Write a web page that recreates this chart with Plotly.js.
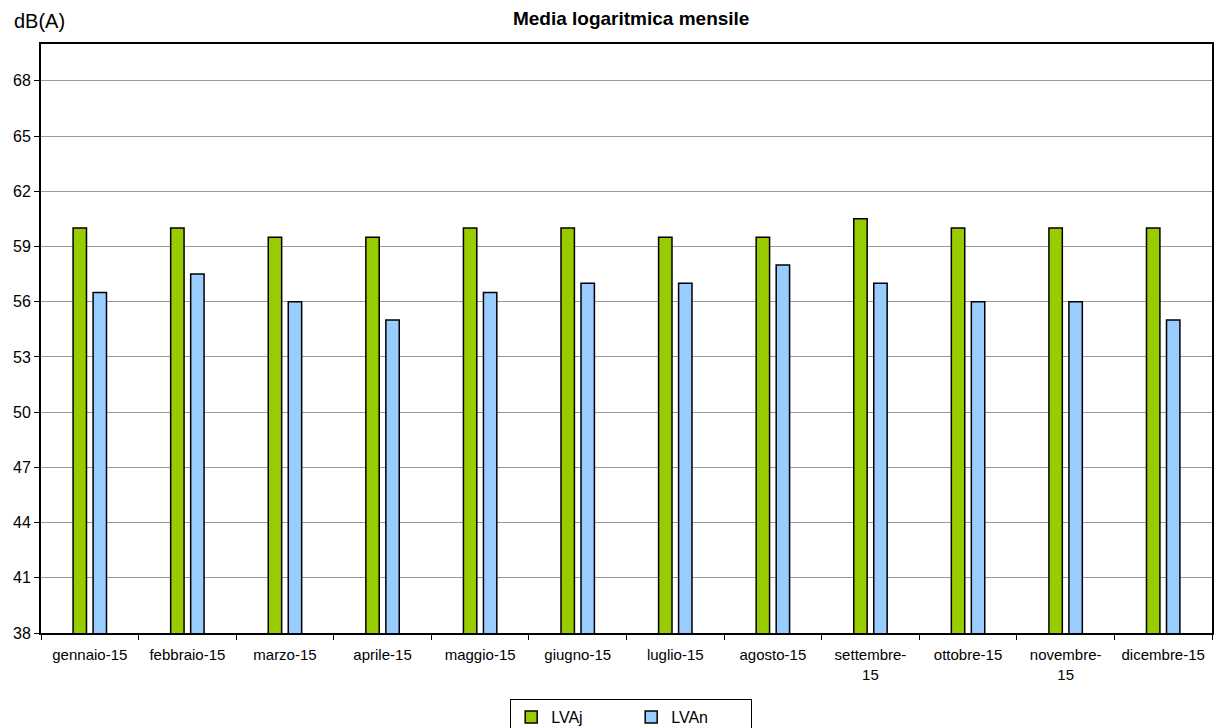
<!DOCTYPE html>
<html>
<head>
<meta charset="utf-8">
<script src="https://cdn.plot.ly/plotly-3.0.1.min.js"></script>
<style>
  html, body { margin: 0; padding: 0; background: #fff; }
  #chart { width: 1216px; height: 728px; }
</style>
</head>
<body>
<div id="chart"></div>
<script>
// Monthly categories (2015)
const months = [
  "gennaio-15", "febbraio-15", "marzo-15", "aprile-15", "maggio-15", "giugno-15",
  "luglio-15", "agosto-15", "settembre-<br>15", "ottobre-15", "novembre-<br>15", "dicembre-15"
];

// Logarithmic monthly averages, dB(A)
const lvaj = [60, 60, 59.5, 59.5, 60, 60, 59.5, 59.5, 60.5, 60, 60, 60];
const lvan = [56.5, 57.5, 56, 55, 56.5, 57, 57, 58, 57, 56, 56, 55];

const yTicks = [38, 41, 44, 47, 50, 53, 56, 59, 62, 65, 68];

const font = "Liberation Sans, Arial, sans-serif";

const traces = [
  {
    type: "bar", name: "LVAj", x: months, y: lvaj,
    marker: { color: "#99CC00", line: { color: "#000000", width: 1.5 } }
  },
  {
    type: "bar", name: "LVAn", x: months, y: lvan,
    marker: { color: "#99CCFF", line: { color: "#000000", width: 1.5 } }
  }
];

const layout = {
  width: 1216, height: 728,
  margin: { l: 41, r: 4, t: 44, b: 95, autoexpand: false },
  paper_bgcolor: "#ffffff", plot_bgcolor: "#ffffff",
  font: { family: font, color: "#000000", size: 15 },
  barmode: "group",
  bargap: 0.59,
  bargroupgap: 0.33,
  showlegend: true,
  title: {
    text: "<b>Media logaritmica mensile</b>",
    font: { family: font, size: 19, color: "#000000" },
    xref: "paper", x: 0.504, xanchor: "center",
    yref: "container", y: 1 - 18 / 728, yanchor: "middle"
  },
  xaxis: {
    type: "category", automargin: false,
    showline: true, linecolor: "#000000", linewidth: 2, mirror: true,
    ticks: "outside", tickson: "boundaries", ticklen: 5, tickcolor: "#000000", tickwidth: 1,
    ticklabelstandoff: 7,
    tickfont: { family: font, size: 15, color: "#000000" },
    showgrid: false, zeroline: false, fixedrange: true
  },
  yaxis: {
    range: [38, 70], automargin: false,
    tickmode: "array", tickvals: yTicks,
    showline: true, linecolor: "#000000", linewidth: 2, mirror: true,
    ticks: "outside", ticklen: 5, tickcolor: "#000000", tickwidth: 1,
    tickfont: { family: font, size: 16, color: "#000000" },
    showgrid: true, gridcolor: "#9a9a9a", gridwidth: 1,
    zeroline: false, fixedrange: true
  },
  legend: {
    orientation: "h",
    xref: "paper", x: 0.504, xanchor: "center",
    yref: "container", y: 1 - 699 / 728, yanchor: "top",
    bordercolor: "#000000", borderwidth: 1,
    bgcolor: "#ffffff",
    font: { family: font, size: 16, color: "#000000" },
    entrywidth: 75, entrywidthmode: "pixels",
    traceorder: "normal"
  },
  annotations: [
    {
      text: "dB(A)", showarrow: false,
      xref: "paper", x: -29 / 1171, xanchor: "left",
      yref: "paper", y: (633 - 21) / 589, yanchor: "middle",
      font: { family: font, size: 20, color: "#000000" }
    }
  ]
};

Plotly.newPlot("chart", traces, layout, { displayModeBar: false, staticPlot: true });
</script>
</body>
</html>
